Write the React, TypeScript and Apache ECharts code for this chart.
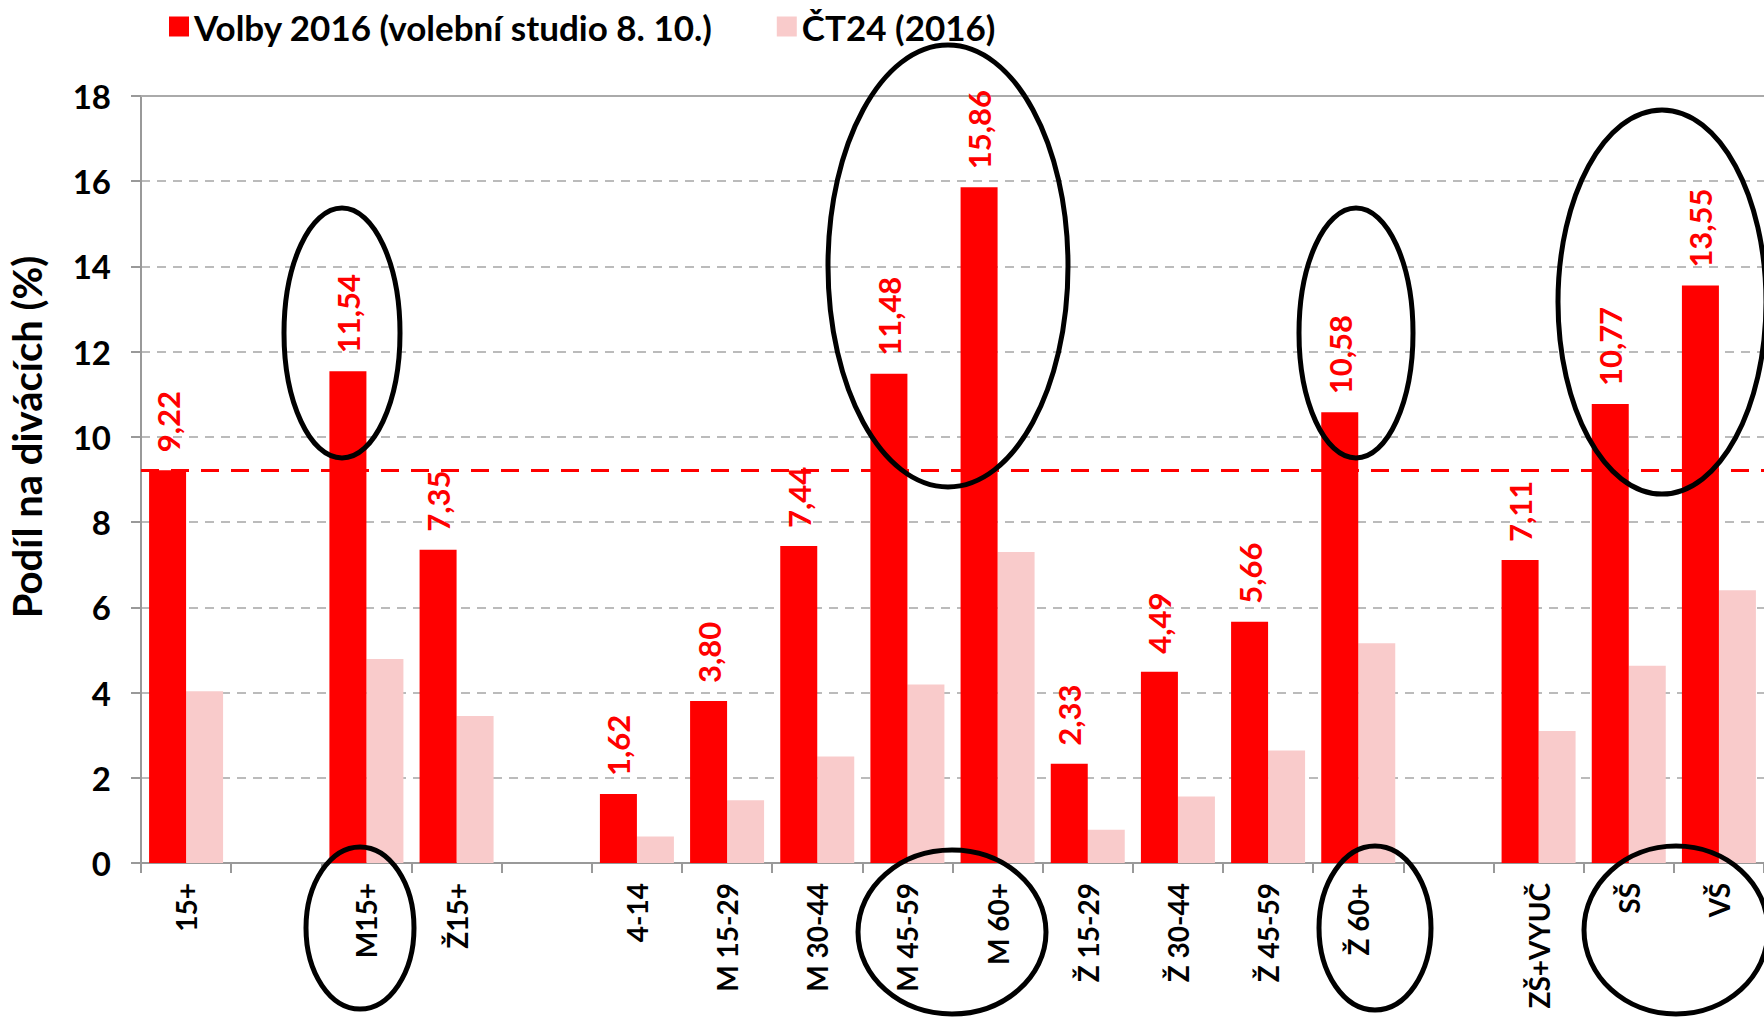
import React, { useEffect, useRef } from "react";
import * as echarts from "echarts";

const categories = ["15+", " ", "M15+", "Ž15+", "  ", "4-14", "M 15-29", "M 30-44", "M 45-59", "M 60+", "Ž 15-29", "Ž 30-44", "Ž 45-59", "Ž 60+", "   ", "ZŠ+VYUČ", "SŠ", "VŠ"];
const volby2016 = [9.22, null, 11.54, 7.35, null, 1.62, 3.80, 7.44, 11.48, 15.86, 2.33, 4.49, 5.66, 10.58, null, 7.11, 10.77, 13.55];
const ct24 = [4.03, null, 4.79, 3.45, null, 0.62, 1.47, 2.5, 4.19, 7.3, 0.78, 1.56, 2.64, 5.16, null, 3.1, 4.63, 6.4];
const averageLine = 9.22;
const yTicks = { min: 0, max: 18, interval: 2 };
const yAxisTitle = "Podíl na divácích (%)";

// annotation ellipses (pixel positions of the hand-drawn circles)
const ellipses = [
  { cx: 342, cy: 333, rx: 58, ry: 125 },
  { cx: 360, cy: 928, rx: 54, ry: 81 },
  { cx: 948, cy: 266, rx: 120, ry: 221 },
  { cx: 952, cy: 932, rx: 94, ry: 82 },
  { cx: 1356, cy: 333, rx: 57, ry: 125 },
  { cx: 1375, cy: 928, rx: 56, ry: 82 },
  { cx: 1662, cy: 302, rx: 104, ry: 192 },
  { cx: 1676, cy: 930, rx: 92, ry: 84 },
];

const FONT = "Lato, 'Open Sans', sans-serif";

export default function App() {
  const ref = useRef<HTMLDivElement>(null);
  useEffect(() => {
    if (!ref.current) return;
    const chart = echarts.init(ref.current, undefined, { renderer: "svg" });
    chart.setOption({
      animation: false,
      textStyle: { fontFamily: FONT },
      legend: {
        left: 164,
        top: 4,
        itemWidth: 20,
        itemHeight: 20,
        itemGap: 64,
        icon: "rect",
        textStyle: { fontSize: 35, fontWeight: "bold", color: "#000", fontFamily: FONT },
        data: ["Volby 2016 (volební studio 8. 10.)", "ČT24 (2016)"],
      },
      grid: { left: 141, top: 96, width: 1633, height: 767, containLabel: false },
      xAxis: [
        {
          type: "category",
          data: categories,
          axisLine: { lineStyle: { color: "#999", width: 2 } },
          axisTick: { show: true, length: 10, lineStyle: { color: "#999", width: 2 } },
          axisLabel: {
            rotate: 90,
            interval: 0,
            fontSize: 28,
            fontWeight: "bold",
            color: "#000",
            margin: 20,
            fontFamily: FONT,
          },
        },
        {
          type: "category",
          position: "top",
          data: categories,
          axisLine: { show: true, lineStyle: { color: "#aaa", width: 2 } },
          axisTick: { show: false },
          axisLabel: { show: false },
        },
      ],
      yAxis: {
        type: "value",
        min: yTicks.min,
        max: yTicks.max,
        interval: yTicks.interval,
        axisLine: { show: true, lineStyle: { color: "#999", width: 2 } },
        axisTick: { show: true, length: 10, lineStyle: { color: "#999", width: 2 } },
        axisLabel: { fontSize: 33, fontWeight: "bold", color: "#000", margin: 30, fontFamily: FONT },
        splitLine: { show: true, lineStyle: { color: "#bbb", type: [9, 7], width: 2 } },
      },
      series: [
        {
          name: "Volby 2016 (volební studio 8. 10.)",
          type: "bar",
          data: volby2016,
          barWidth: 37,
          barGap: "0%",
          itemStyle: { color: "#FF0000" },
          label: {
            show: true,
            position: "top",
            rotate: 90,
            align: "left",
            verticalAlign: "middle",
            distance: 18,
            fontSize: 31,
            fontWeight: "bold",
            color: "#FF0000",
            fontFamily: FONT,
            formatter: (p: any) => (p.value == null ? "" : Number(p.value).toFixed(2).replace(".", ",")),
          },
          markLine: {
            symbol: "none",
            silent: true,
            label: { show: false },
            lineStyle: { color: "#FF0000", type: [18, 12], width: 3 },
            data: [{ yAxis: averageLine }],
          },
          z: 3,
        },
        {
          name: "ČT24 (2016)",
          type: "bar",
          data: ct24,
          barWidth: 37,
          barGap: "0%",
          itemStyle: { color: "#F9CBCB" },
          z: 2,
        },
      ],
      graphic: [
        {
          type: "text",
          x: 27,
          y: 437,
          rotation: Math.PI / 2,
          style: {
            text: yAxisTitle,
            fontSize: 40,
            fontWeight: "bold",
            fontFamily: FONT,
            fill: "#000",
            align: "center",
            verticalAlign: "middle",
          },
        },
        ...ellipses.map((e) => ({
          type: "ellipse",
          shape: { cx: e.cx, cy: e.cy, rx: e.rx, ry: e.ry },
          style: { fill: "none", stroke: "#000", lineWidth: 5 },
          z: 100,
        })),
      ],
    });
    return () => chart.dispose();
  }, []);
  return (
    <div
      ref={ref}
      style={{ position: "absolute", left: 0, top: 0, width: 1764, height: 1017, overflow: "hidden", background: "#fff" }}
    />
  );
}
